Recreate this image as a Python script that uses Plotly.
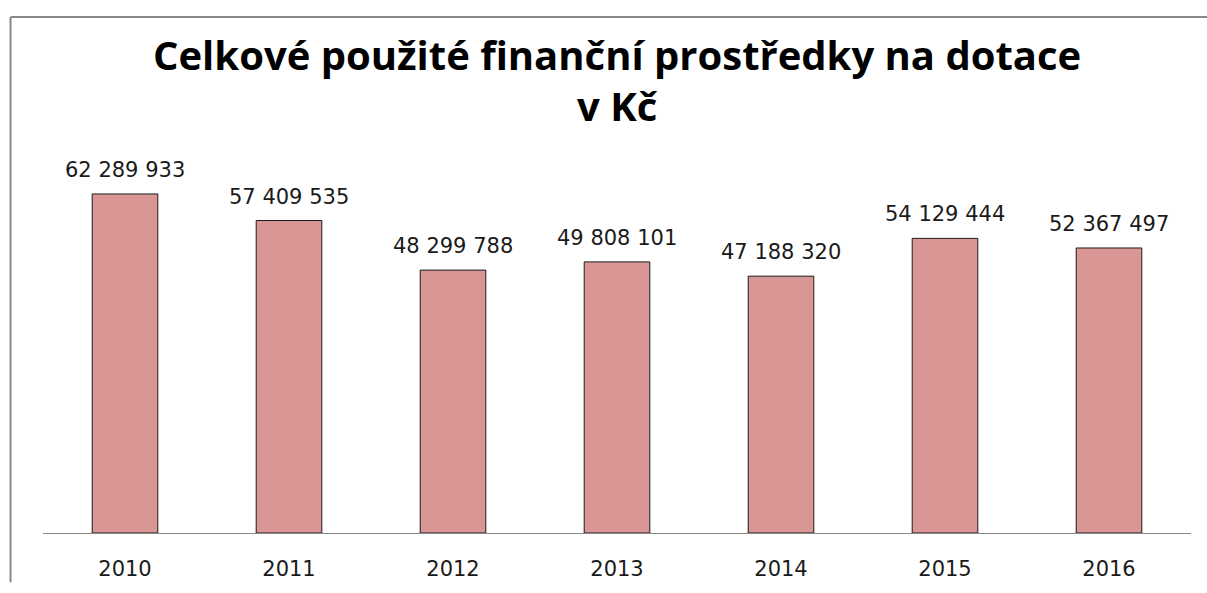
import plotly.graph_objects as go

years = ["2010", "2011", "2012", "2013", "2014", "2015", "2016"]
values = [62289933, 57409535, 48299788, 49808101, 47188320, 54129444, 52367497]
title_lines = ["Celkové použité finanční prostředky na dotace", "v Kč"]

W, H = 1207, 593
ML, MR, MT, MB = 42.5, 15.5, 152, 46
pw = W - ML - MR
ph = H - MT - MB

def px_to_paper_x(px):
    return (px - ML) / pw

def px_to_paper_y(py):
    return (H - MB - py) / ph

fig = go.Figure()
fig.add_trace(go.Bar(
    x=years, y=values,
    marker=dict(color="#D99694", line=dict(color="#1a1a1a", width=1)),
    hoverinfo="x+y",
))

# data labels (category axis: annotation x uses the category serial number)
for i, v in enumerate(values):
    fig.add_annotation(
        x=i, y=v, xref="x", yref="y",
        text=f"{v:,}".replace(",", " "),
        showarrow=False, yanchor="bottom", yshift=10,
        font=dict(family="DejaVu Sans", size=21, color="#1a1a1a"),
    )

# title (two lines)
for line, ymid in zip(title_lines, [51, 104]):
    fig.add_annotation(
        x=0.5, xref="paper", xanchor="center",
        y=px_to_paper_y(ymid), yref="paper", yanchor="middle",
        text=f"<b>{line}</b>", showarrow=False,
        font=dict(family="Open Sans", size=40, color="black"),
    )

border = dict(color="#888888", width=2)
x0 = px_to_paper_x(10)
y0 = px_to_paper_y(12)
fig.add_shape(type="line", xref="paper", yref="paper",
              x0=x0, x1=x0, y0=y0, y1=px_to_paper_y(H + 5), line=border)
fig.add_shape(type="line", xref="paper", yref="paper",
              x0=x0, x1=px_to_paper_x(W + 5), y0=y0, y1=y0, line=border)

fig.update_layout(
    width=W, height=H,
    margin=dict(l=ML, r=MR, t=MT, b=MB),
    paper_bgcolor="white", plot_bgcolor="white",
    bargap=0.6,
    showlegend=False,
    xaxis=dict(
        type="category", range=[-0.5, len(years) - 0.5],
        showline=True, linecolor="#888888", linewidth=1,
        showgrid=False, ticks="", ticklabelstandoff=17,
        tickfont=dict(family="DejaVu Sans", size=21, color="#1a1a1a"),
    ),
    yaxis=dict(range=[0, 70000000], visible=False, showgrid=False),
)

fig.write_html(
    "out.html",
    config={"displayModeBar": False},
    post_script="document.body.style.margin='0';document.body.style.overflow='hidden';",
)
